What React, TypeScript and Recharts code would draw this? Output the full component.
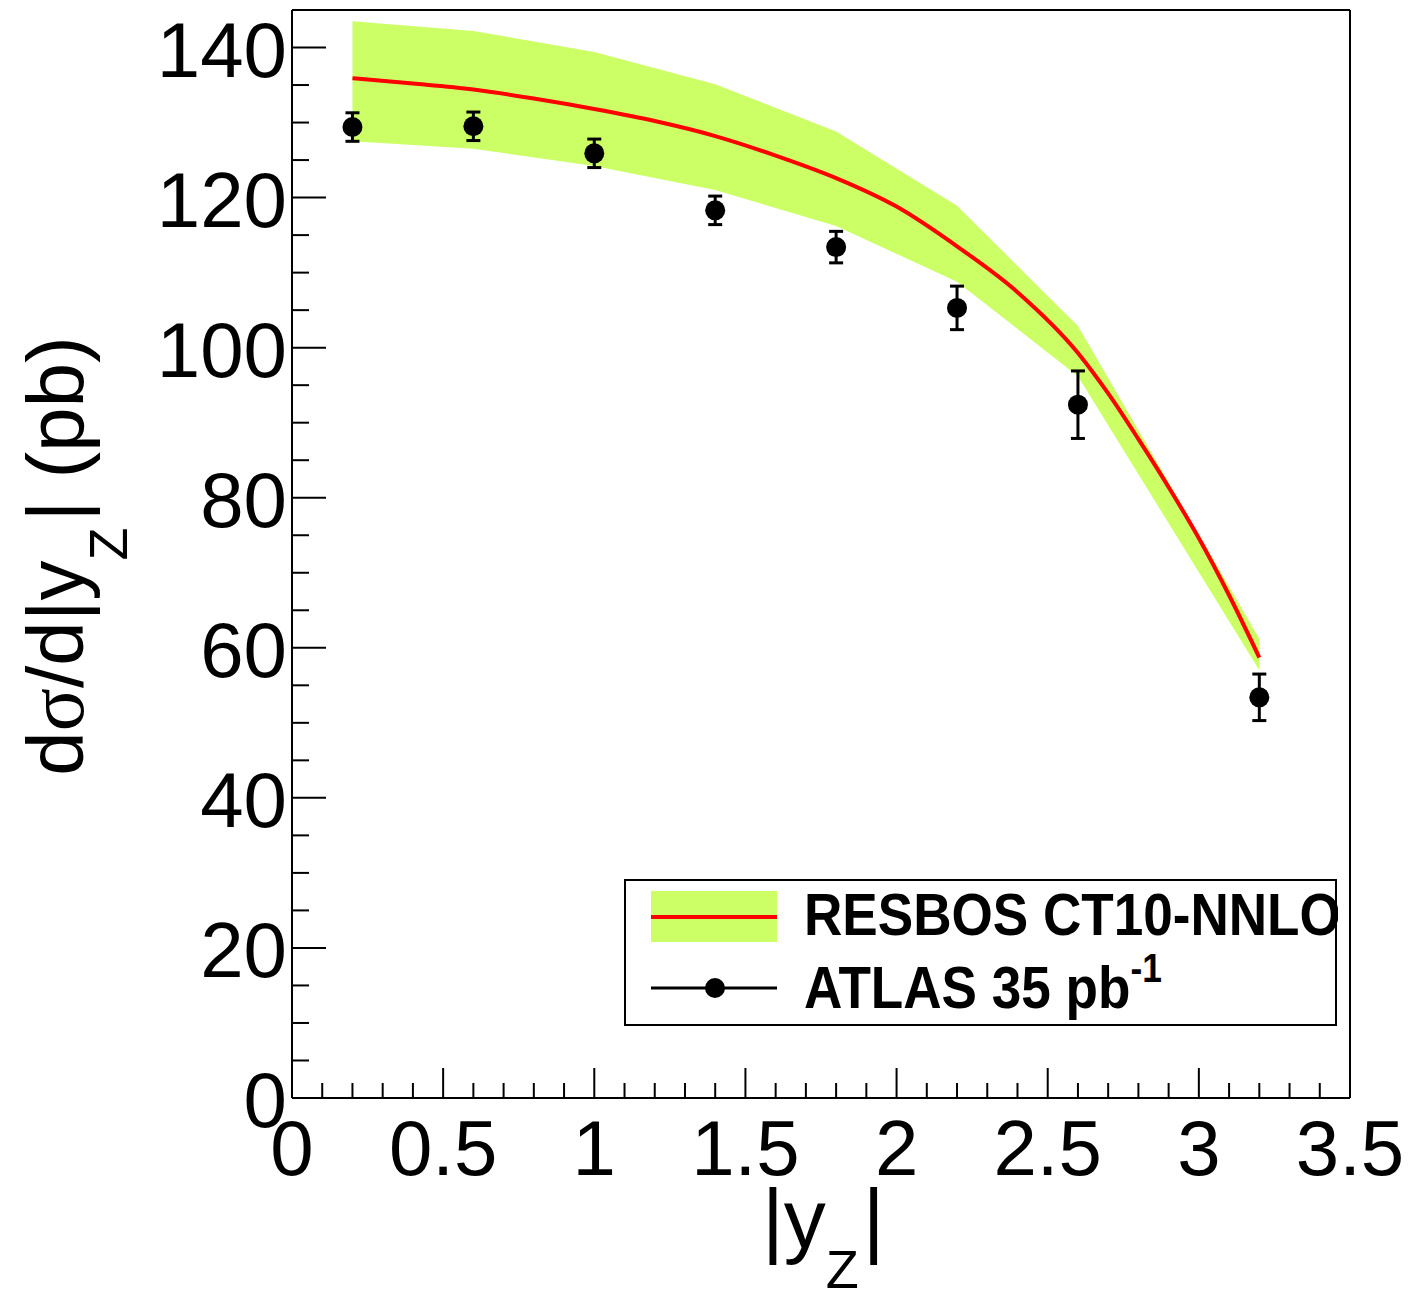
import React from 'react'
import {
  ComposedChart,
  Area,
  Line,
  Scatter,
  ErrorBar,
  XAxis,
  YAxis,
  ReferenceLine,
  Legend,
} from 'recharts'

// RESBOS CT10-NNLO uncertainty band (piecewise, at the measured bins)
const bandX = [0.2, 0.6, 1.0, 1.4, 1.8, 2.2, 2.6, 3.2]
const bandLow = [127.5, 126.5, 124.2, 121.0, 116.2, 108.8, 96.2, 57.0]
const bandHigh = [143.5, 142.2, 139.4, 135.1, 128.8, 118.9, 102.9, 61.2]

// RESBOS central prediction
const curveX = [0.2, 0.4, 0.6, 0.8, 1.0, 1.2, 1.4, 1.6, 1.8, 2.0, 2.2, 2.4, 2.6, 2.7, 2.8, 2.9, 3.0, 3.1, 3.2]
const curveY = [135.9, 135.2, 134.4, 133.2, 131.8, 130.2, 128.2, 125.6, 122.6, 118.8, 113.5, 107.4, 99.3, 93.9, 87.8, 81.4, 74.6, 67.0, 58.7]

// ATLAS 35 pb^-1 data
const dataX = [0.2, 0.6, 1.0, 1.4, 1.8, 2.2, 2.6, 3.2]
const dataY = [129.4, 129.5, 125.9, 118.3, 113.4, 105.3, 92.4, 53.4]
const dataErr = [1.9, 1.9, 1.9, 1.9, 2.1, 2.9, 4.5, 3.1]

const xTicks = [
  0, 0.1, 0.2, 0.3, 0.4, 0.5, 0.6, 0.7, 0.8, 0.9, 1, 1.1, 1.2, 1.3, 1.4, 1.5, 1.6, 1.7,
  1.8, 1.9, 2, 2.1, 2.2, 2.3, 2.4, 2.5, 2.6, 2.7, 2.8, 2.9, 3, 3.1, 3.2, 3.3, 3.4, 3.5,
]
const yTicks = [0, 5, 10, 15, 20, 25, 30, 35, 40, 45, 50, 55, 60, 65, 70, 75, 80, 85, 90, 95, 100, 105, 110, 115, 120, 125, 130, 135, 140]

const FONT = '"Liberation Sans", Arial, Helvetica, sans-serif'
const BAND = '#ccff66'

const bandRows = bandX.map((x, i) => ({ x, range: [bandLow[i], bandHigh[i]] }))
const curveRows = curveX.map((x, i) => ({ x, y: curveY[i] }))
const pointRows = dataX.map((x, i) => ({ x, y: dataY[i], err: dataErr[i] }))

function XTick({ x, y, payload }: any) {
  const v = payload.value
  const major = Math.round(v * 10) % 5 === 0
  return (
    <g>
      <line x1={x} y1={y} x2={x} y2={y - (major ? 30 : 15)} stroke="#000" strokeWidth={2} />
      {major && (
        <text x={x} y={y + 77} textAnchor="middle" fontSize={78} fontFamily={FONT} fill="#000">
          {String(Number(v.toFixed(1)))}
        </text>
      )}
    </g>
  )
}

function YTick({ x, y, payload }: any) {
  const v = payload.value
  const major = v % 20 === 0
  return (
    <g>
      <line x1={x} y1={y} x2={x + (major ? 34 : 17)} y2={y} stroke="#000" strokeWidth={2} />
      {major && (
        <text x={x - 5} y={y + 29} textAnchor="end" fontSize={78} fontFamily={FONT} fill="#000">
          {v}
        </text>
      )}
    </g>
  )
}

function YTitle() {
  return (
    <text
      transform="translate(83, 556) rotate(-90)"
      textAnchor="middle"
      fontSize={80}
      fontFamily={FONT}
      fill="#000"
    >
      d<tspan fontFamily='"Liberation Serif", "DejaVu Serif", serif'>σ</tspan>/d|y
      <tspan fontSize={54} dy={44}>Z</tspan>
      <tspan dy={-44} dx={6}>| (pb)</tspan>
    </text>
  )
}

function XTitle() {
  return (
    <text x={762} y={1248} fontSize={84} fontFamily={FONT} fill="#000">
      |y
      <tspan fontSize={54} dy={40}>Z</tspan>
      <tspan dy={-40} dx={4}>|</tspan>
    </text>
  )
}

function LegendBox() {
  return (
    <svg width={714} height={147} style={{ display: 'block' }}>
      <rect x={1} y={1} width={711} height={145} fill="#fff" stroke="#000" strokeWidth={2} />
      <rect x={27} y={12} width={126} height={51} fill={BAND} />
      <line x1={27} y1={38} x2={153} y2={38} stroke="#ff0000" strokeWidth={4} />
      <g transform="translate(180, 56) scale(0.885, 1)">
        <text x={0} y={0} fontSize={60} fontWeight="bold" fontFamily={FONT} fill="#000">
          RESBOS CT10-NNLO
        </text>
      </g>
      <line x1={27} y1={109} x2={153} y2={109} stroke="#000" strokeWidth={3} />
      <circle cx={91} cy={109} r={10} fill="#000" />
      <g transform="translate(180, 129) scale(0.885, 1)">
        <text x={0} y={0} fontSize={60} fontWeight="bold" fontFamily={FONT} fill="#000">
          ATLAS 35 pb
          <tspan fontSize={40} dy={-26}>-1</tspan>
        </text>
      </g>
    </svg>
  )
}

export default function App() {
  return (
    <div style={{ position: 'absolute', left: 0, top: 0, background: '#fff' }}>
      <ComposedChart
        width={1414}
        height={1292}
        margin={{ top: 10, right: 64, left: 0, bottom: 0 }}
      >
        <XAxis
          dataKey="x"
          type="number"
          domain={[0, 3.5]}
          ticks={xTicks}
          interval={0}
          allowDataOverflow
          height={194}
          tickSize={0}
          tickMargin={0}
          tickLine={false}
          axisLine={{ stroke: '#000', strokeWidth: 2 }}
          tick={<XTick />}
          label={{ content: () => <XTitle /> }}
        />
        <YAxis
          type="number"
          domain={[0, 145]}
          ticks={yTicks}
          interval={0}
          allowDataOverflow
          width={292}
          tickSize={0}
          tickMargin={0}
          tickLine={false}
          axisLine={{ stroke: '#000', strokeWidth: 2 }}
          tick={<YTick />}
          label={{ content: () => <YTitle /> }}
        />
        <Area
          data={bandRows}
          dataKey="range"
          type="linear"
          stroke="none"
          fill={BAND}
          fillOpacity={1}
          isAnimationActive={false}
          legendType="none"
        />
        <Line
          data={curveRows}
          dataKey="y"
          type="monotone"
          stroke="#ff0000"
          strokeWidth={4}
          dot={false}
          activeDot={false}
          isAnimationActive={false}
        />
        <Scatter
          data={pointRows}
          dataKey="y"
          fill="#000"
          isAnimationActive={false}
          shape={(p: any) => <circle cx={p.cx} cy={p.cy} r={10} fill="#000" />}
        >
          <ErrorBar dataKey="err" direction="y" width={7} strokeWidth={3} stroke="#000" />
        </Scatter>
        <ReferenceLine y={145} stroke="#000" strokeWidth={2} />
        <ReferenceLine x={3.5} stroke="#000" strokeWidth={2} />
        <Legend
          layout="vertical"
          verticalAlign="middle"
          align="center"
          content={() => <LegendBox />}
          wrapperStyle={{ position: 'absolute', left: 624, top: 879, width: 714, height: 147 }}
        />
      </ComposedChart>
    </div>
  )
}
